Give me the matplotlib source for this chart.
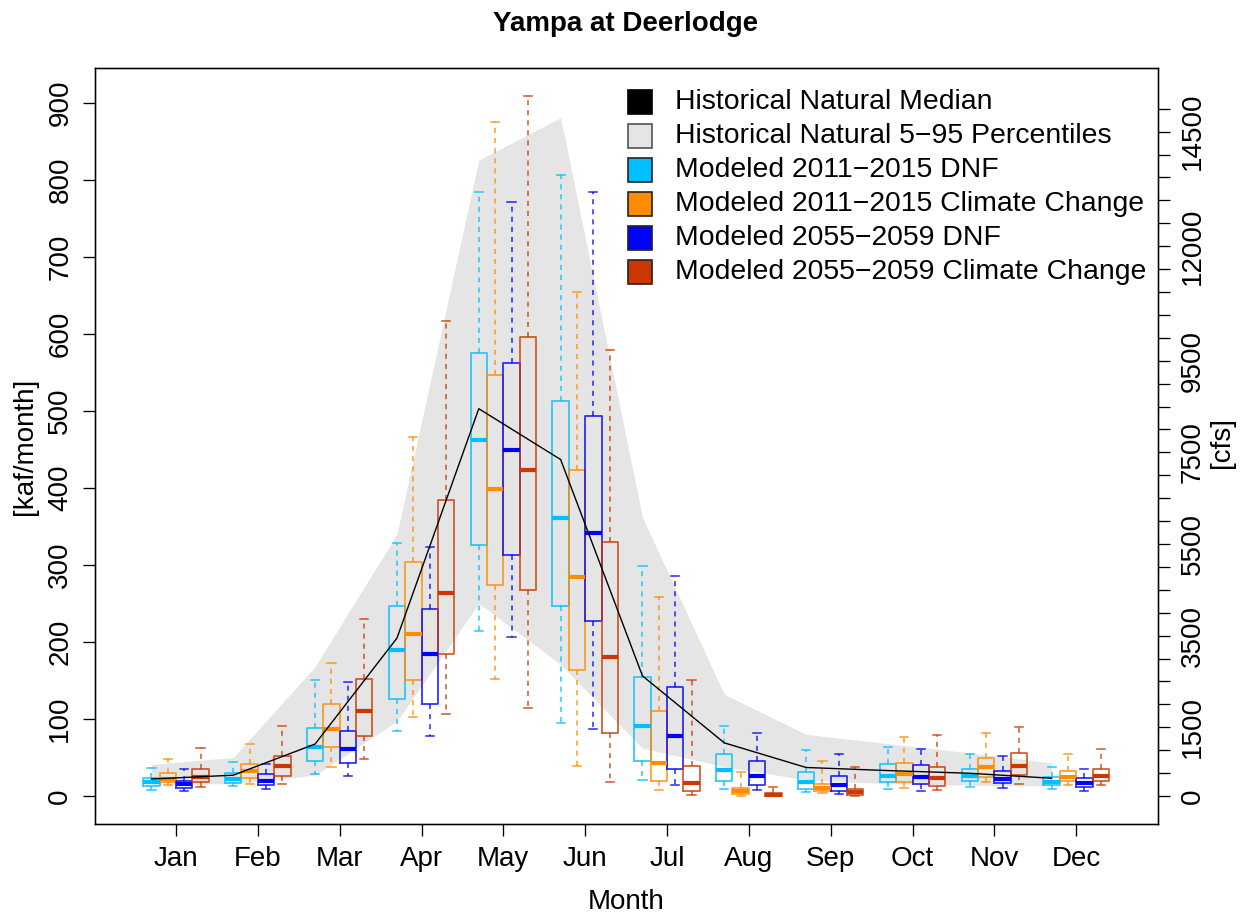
import matplotlib
matplotlib.use("Agg")
import matplotlib.pyplot as plt
from matplotlib.patches import Rectangle
import numpy as np

plt.rcParams['font.family'] = ['Liberation Sans', 'DejaVu Sans']

months = ["Jan", "Feb", "Mar", "Apr", "May", "Jun",
          "Jul", "Aug", "Sep", "Oct", "Nov", "Dec"]

# Historical natural flow [kaf/month]
hist_median = [22, 27, 67.5, 205, 503, 437, 156, 69, 37, 33, 29.5, 23]
hist_p05 = [15, 16, 27, 97, 250, 171, 62, 38, 21, 16, 14, 13]
hist_p95 = [41, 50, 168, 340, 826, 881, 362, 132, 80, 68, 56, 43]

# Modeled 2011-2015 DNF
dnf11_lo = [8, 12.5, 29, 84, 214, 95, 21, 9.5, 5, 9, 12, 9.5]
dnf11_q1 = [13, 16.5, 45.5, 126, 326, 247, 46, 19.5, 9.5, 18, 19, 14]
dnf11_med = [18, 22, 63, 190, 462, 361, 91, 34, 18.5, 26, 26, 18]
dnf11_q3 = [23, 30, 88, 247, 575, 513, 154, 54, 31, 42, 35.5, 25]
dnf11_hi = [36, 44, 150, 328, 784, 806, 299, 91, 60, 64, 54, 38]

# Modeled 2011-2015 Climate Change
cc11_lo = [14, 15, 38, 103, 152, 39, 8, 0.5, 4, 11, 18.6, 14]
cc11_q1 = [18, 23, 64, 151, 274, 163, 19.5, 2.6, 6, 17.7, 25, 19.5]
cc11_med = [22, 32, 87, 210, 399, 285, 43, 7, 10, 28.6, 37, 24]
cc11_q3 = [30, 42, 119, 304, 547, 424, 111, 11, 15.6, 42.4, 49, 32.5]
cc11_hi = [48, 67, 173, 466, 876, 654, 258, 31, 46, 77, 82, 54.5]

# Modeled 2055-2059 DNF
dnf55_lo = [6, 9.5, 26, 78, 206, 87, 14, 8, 2.6, 7, 10, 6.5]
dnf55_q1 = [11, 14, 43, 120, 313, 227, 35, 14, 6.5, 15, 16.5, 11.7]
dnf55_med = [15, 19.5, 60.6, 185, 449, 341, 78, 26, 14, 24, 22.5, 16.5]
dnf55_q3 = [20, 28, 85, 243, 563, 493, 141, 45, 26, 40, 33, 23]
dnf55_hi = [35, 41.5, 148, 324, 771, 785, 286, 82, 55, 61.5, 51.5, 35.5]

# Modeled 2055-2059 Climate Change
cc55_lo = [12, 15, 48, 107, 114, 18, 1.3, 0, 0, 8, 15, 14]
cc55_q1 = [18, 26, 78, 184, 267, 81.5, 7, 0.2, 0.8, 13, 27.7, 19.5]
cc55_med = [24, 38.5, 110, 264, 423, 181, 17, 1.7, 5, 23, 39, 26.4]
cc55_q3 = [35, 52, 152, 384, 596, 330, 39, 3.5, 9.5, 38, 56, 35.5]
cc55_hi = [62, 91, 230, 617, 909, 579, 151, 12, 38, 79, 90, 61]

series_labels = ["Modeled 2011\u22122015 DNF",
                 "Modeled 2011\u22122015 Climate Change",
                 "Modeled 2055\u22122059 DNF",
                 "Modeled 2055\u22122059 Climate Change"]
series_colors = ["#00BFFF", "#FF8C00", "#0000FF", "#CD3700"]
series_stats = [
    (dnf11_lo, dnf11_q1, dnf11_med, dnf11_q3, dnf11_hi),
    (cc11_lo, cc11_q1, cc11_med, cc11_q3, cc11_hi),
    (dnf55_lo, dnf55_q1, dnf55_med, dnf55_q3, dnf55_hi),
    (cc55_lo, cc55_q1, cc55_med, cc55_q3, cc55_hi),
]

# right-axis (cfs) ticks and labels
cfs_ticks = list(range(0, 15001, 500))
cfs_labels = [0, 1500, 3500, 5500, 7500, 9500, 12000, 14500]
KAF_TO_CFS = 1000.0 / (1.9835 * 30)

W, H = 1247, 917
fig = plt.figure(figsize=(W / 100, H / 100), dpi=100)
ax = fig.add_axes([95 / W, 1 - 824 / H, 1063 / W, 756 / H])

x = np.arange(1, 13)
offsets = [-0.3, -0.1, 0.1, 0.3]
box_w = 0.2

ax.fill_between(x + offsets[0], hist_p05, hist_p95, color="#E5E5E5", lw=0, zorder=1)

for k, (color, st) in enumerate(zip(series_colors, series_stats)):
    lo, q1, med, q3, hi = st
    stats = [dict(whislo=lo[i], q1=q1[i], med=med[i], q3=q3[i], whishi=hi[i], fliers=[])
             for i in range(12)]
    ax.bxp(stats, positions=x + offsets[k], widths=box_w, capwidths=0.1,
           showfliers=False, patch_artist=False, manage_ticks=False,
           boxprops=dict(color=color, lw=1.3, alpha=0.8),
           medianprops=dict(color=color, lw=3.0, solid_capstyle="butt"),
           whiskerprops=dict(color=color, lw=1.1, alpha=0.85, linestyle=(0, (3.3, 3.3))),
           capprops=dict(color=color, lw=1.1, alpha=0.85),
           zorder=3)

ax.plot(x + offsets[0], hist_median, color="black", lw=1.0, zorder=4)

ylo, yhi = -36.4, 945.5
ax.set_xlim(0.01, 13.0)
ax.set_ylim(ylo, yhi)
ax.set_xticks(x)
ax.set_xticklabels(months)
ax.set_yticks(np.arange(0, 901, 100))
ax.tick_params(axis="both", direction="out", length=8.6, width=0.95, labelsize=20)
ax.tick_params(axis="x", pad=7)
ax.tick_params(axis="y", pad=7)
for lab in ax.get_yticklabels():
    lab.set_rotation(90)
    lab.set_va("center")
for sp in ax.spines.values():
    sp.set_linewidth(0.95)

ax2 = ax.twinx()
ax2.set_ylim(ylo * KAF_TO_CFS, yhi * KAF_TO_CFS)
ax2.set_yticks(cfs_ticks)
ax2.set_yticklabels([str(t) if t in cfs_labels else "" for t in cfs_ticks])
ax2.tick_params(axis="y", direction="out", length=8.6, width=0.95, labelsize=20, pad=7)
for lab in ax2.get_yticklabels():
    lab.set_rotation(90)
    lab.set_va("center")
for sp in ax2.spines.values():
    sp.set_linewidth(0.95)

# legend
legend_labels = ["Historical Natural Median", "Historical Natural 5\u221295 Percentiles"] + series_labels
legend_faces = ["black", "#E5E5E5"] + series_colors
legend_edges = ["black", "#555555"] + ["#222222"] * 4
lx0, lw_, lh = (628 - 95) / 1063, 24 / 1063, 24 / 756
for i, (lab, fc, ec) in enumerate(zip(legend_labels, legend_faces, legend_edges)):
    yc = (824 - (102 + 34 * i)) / 756
    ax.add_patch(Rectangle((lx0, yc - lh / 2), lw_, lh, transform=ax.transAxes,
                           facecolor=fc, edgecolor=ec, lw=1.2, zorder=6, clip_on=False))
    ax.text((675 - 95) / 1063, yc, lab, transform=ax.transAxes, fontsize=20.4,
            ha="left", va="center", zorder=6)

fig.text(626 / W, 1 - 31 / H, "Yampa at Deerlodge", ha="center", va="baseline",
         fontsize=20, fontweight="bold")
fig.text(626 / W, 1 - 909 / H, "Month", ha="center", va="baseline", fontsize=20)
fig.text(25 / W, 1 - 446 / H, "[kaf/month]", ha="center", va="center", rotation=90, fontsize=20)
fig.text(1222 / W, 1 - 443 / H, "[cfs]", ha="center", va="center", rotation=90, fontsize=20)

fig.savefig("out.png", dpi=100)
